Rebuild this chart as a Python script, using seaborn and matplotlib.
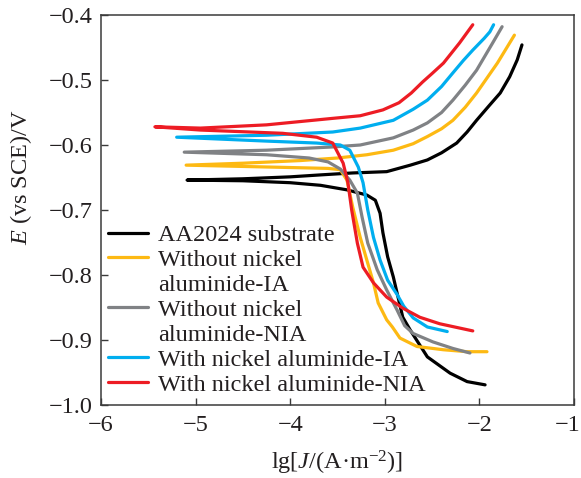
import numpy as np
import pandas as pd
import seaborn as sns
import matplotlib
matplotlib.use("Agg")
import matplotlib.pyplot as plt
from matplotlib.lines import Line2D
from matplotlib.ticker import FixedLocator, FuncFormatter
from matplotlib.transforms import ScaledTranslation

# ---- data ----
labels = ["AA2024 substrate",
          "Without nickel\naluminide-IA",
          "Without nickel\naluminide-NIA",
          "With nickel aluminide-IA",
          "With nickel aluminide-NIA"]
colors = ["#000000", "#FDB913", "#808285", "#00AEEF", "#ED1C24"]

# each series: cathodic branch (high current -> Ecorr), then anodic branch
black_x = [-1.94, -2.13, -2.31, -2.55, -2.73, -2.81, -2.86, -2.91, -2.97, -3.02, -3.05, -3.10, -3.19, -3.40, -3.68, -4.00, -4.50, -5.09,
           -4.50, -4.00, -3.68, -3.34, -2.98, -2.73, -2.55, -2.40, -2.24, -2.13, -2.03, -1.90, -1.78, -1.68, -1.60, -1.55]
black_y = [-0.969, -0.964, -0.951, -0.926, -0.885, -0.865, -0.834, -0.803, -0.772, -0.735, -0.705, -0.685, -0.677, -0.669, -0.662, -0.658, -0.655, -0.654,
           -0.652, -0.649, -0.646, -0.643, -0.641, -0.631, -0.623, -0.612, -0.597, -0.580, -0.562, -0.540, -0.520, -0.495, -0.469, -0.446]

yellow_x = [-1.92, -2.13, -2.38, -2.66, -2.84, -2.92, -2.98, -3.07, -3.12, -3.18, -3.26, -3.34, -3.40, -3.47, -3.60, -3.90, -4.50, -5.10,
            -4.50, -3.90, -3.50, -3.19, -2.91, -2.70, -2.55, -2.40, -2.28, -2.15, -2.03, -1.81, -1.63]
yellow_y = [-0.918, -0.918, -0.915, -0.910, -0.897, -0.880, -0.869, -0.843, -0.812, -0.782, -0.742, -0.695, -0.654, -0.638, -0.636, -0.635, -0.633, -0.631,
            -0.628, -0.624, -0.620, -0.615, -0.608, -0.598, -0.587, -0.575, -0.562, -0.542, -0.520, -0.474, -0.431]

gray_x = [-2.10, -2.28, -2.49, -2.70, -2.79, -2.87, -2.98, -3.08, -3.18, -3.24, -3.29, -3.37, -3.47, -3.60, -3.80, -4.25, -5.12,
          -4.25, -3.55, -3.26, -2.91, -2.70, -2.55, -2.40, -2.28, -2.15, -2.03, -1.86, -1.76]
gray_y = [-0.920, -0.913, -0.903, -0.890, -0.878, -0.854, -0.823, -0.792, -0.751, -0.711, -0.674, -0.654, -0.637, -0.626, -0.620, -0.615, -0.611,
          -0.608, -0.603, -0.600, -0.589, -0.577, -0.566, -0.550, -0.531, -0.508, -0.485, -0.443, -0.418]

blue_x = [-2.34, -2.55, -2.70, -2.80, -2.87, -2.97, -3.05, -3.12, -3.18, -3.23, -3.28, -3.37, -3.47, -3.72, -4.25, -5.20,
          -4.25, -3.55, -3.26, -2.91, -2.70, -2.55, -2.40, -2.28, -2.17, -2.07, -1.95, -1.89, -1.85]
blue_y = [-0.887, -0.880, -0.866, -0.848, -0.830, -0.808, -0.777, -0.742, -0.700, -0.658, -0.634, -0.608, -0.600, -0.597, -0.594, -0.588,
          -0.585, -0.580, -0.574, -0.562, -0.545, -0.531, -0.510, -0.489, -0.470, -0.454, -0.436, -0.426, -0.415]

red_x = [-2.07, -2.42, -2.63, -2.81, -2.98, -3.12, -3.23, -3.29, -3.35, -3.39, -3.44, -3.55, -3.72, -4.08, -4.95, -5.43,
         -4.95, -4.25, -3.55, -3.26, -3.02, -2.85, -2.72, -2.60, -2.50, -2.38, -2.21, -2.07]
red_y = [-0.886, -0.875, -0.865, -0.851, -0.834, -0.812, -0.788, -0.751, -0.700, -0.658, -0.628, -0.597, -0.588, -0.582, -0.577, -0.572,
         -0.574, -0.569, -0.559, -0.555, -0.546, -0.535, -0.520, -0.503, -0.490, -0.474, -0.443, -0.415]

x_ticks = [-6, -5, -4, -3, -2, -1]
y_ticks = [-1.0, -0.9, -0.8, -0.7, -0.6, -0.5, -0.4]

series_x = [black_x, yellow_x, gray_x, blue_x, red_x]
series_y = [black_y, yellow_y, gray_y, blue_y, red_y]

frames = []
for lab, xs, ys in zip(labels, series_x, series_y):
    frames.append(pd.DataFrame({"x": xs, "y": ys, "series": lab}))
df = pd.concat(frames, ignore_index=True)

# ---- style ----
sns.set_style("ticks")
plt.rcParams["font.family"] = ["Liberation Serif", "DejaVu Serif"]
plt.rcParams["mathtext.fontset"] = "custom"
plt.rcParams["mathtext.rm"] = "Liberation Serif"
plt.rcParams["mathtext.it"] = "Liberation Serif:italic"
FS = 17.5
plt.rcParams["font.size"] = FS

txt_color = "#231F20"
spine_color = "#3a3a3a"

fig = plt.figure(figsize=(5.81, 4.78), dpi=100)
ax = fig.add_axes([101 / 581, 1 - 405 / 478, (574 - 101) / 581, (405 - 15) / 478])

sns.lineplot(data=df, x="x", y="y", hue="series", hue_order=labels,
             palette=dict(zip(labels, colors)), sort=False, estimator=None,
             linewidth=2.3, legend=False, ax=ax)

ax.set_xlim(-6, -1)
ax.set_ylim(-1.0, -0.4)
ax.xaxis.set_major_locator(FixedLocator(x_ticks))
ax.yaxis.set_major_locator(FixedLocator(y_ticks))
ax.yaxis.set_major_formatter(FuncFormatter(lambda v, p: f"{v:.1f}".replace("-", "\u2212")))
ax.xaxis.set_major_formatter(FuncFormatter(lambda v, p: f"{v:.0f}".replace("-", "\u2212")))
ax.tick_params(direction="in", length=5, width=1, color=spine_color,
               labelsize=FS, labelcolor=txt_color)
ax.tick_params(axis="x", pad=7)
ax.tick_params(axis="y", pad=6)
for s in ax.spines.values():
    s.set_visible(True)
    s.set_color(spine_color)
    s.set_linewidth(1.1)

ax.set_xlabel(r"lg[$J$/(A·m$^{-2}$)]", fontsize=FS, color=txt_color)
ax.set_ylabel(r"$E$ (vs SCE)/V", fontsize=FS, color=txt_color)
ax.yaxis.set_label_coords(-0.142, 0.585)
ax.xaxis.set_label_coords(0.5, -0.112)

# nudge the last x tick label so it stays inside the canvas
fig.canvas.draw()
last = ax.xaxis.get_majorticklabels()[-1]
last.set_transform(last.get_transform() + ScaledTranslation(-6 / 100, 0, fig.dpi_scale_trans))

# legend: first line of each label carries the handle
handles, leg_labels = [], []
for lab, col in zip(labels, colors):
    parts = lab.split("\n")
    handles.append(Line2D([], [], color=col, linewidth=2.3))
    leg_labels.append(parts[0])
    for p in parts[1:]:
        handles.append(Line2D([], [], color="none", linewidth=0))
        leg_labels.append(p)

leg = ax.legend(handles, leg_labels, loc="upper left",
                bbox_to_anchor=(108 / 581, 1 - 224 / 478),
                bbox_transform=fig.transFigure, frameon=False,
                borderpad=0, borderaxespad=0, handlelength=1.65,
                handletextpad=0.4, labelspacing=0.12, fontsize=FS)
for t in leg.get_texts():
    t.set_color(txt_color)

fig.savefig("out.png", dpi=100)
